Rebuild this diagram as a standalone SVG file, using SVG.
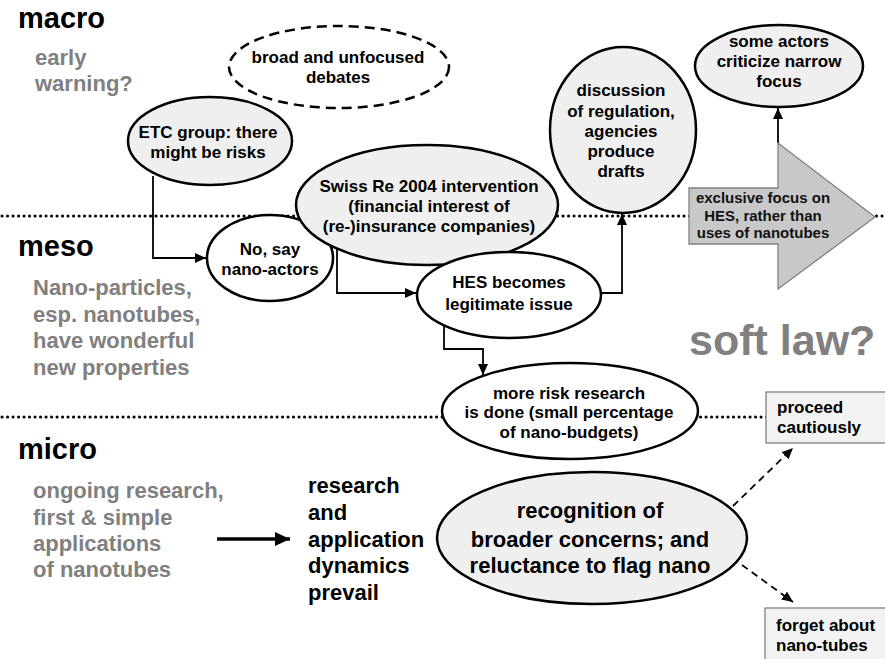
<svg xmlns="http://www.w3.org/2000/svg" width="885" height="659" viewBox="0 0 885 659">
  <defs>
    <marker id="arrow" markerUnits="userSpaceOnUse" markerWidth="12" markerHeight="10" refX="11" refY="5" orient="auto">
      <path d="M0,0 L11,5 L0,10 Z" fill="#000"/>
    </marker>
    <marker id="arrowBig" markerUnits="userSpaceOnUse" markerWidth="16" markerHeight="14" refX="15" refY="7" orient="auto">
      <path d="M0,0 L15,7 L0,14 Z" fill="#000"/>
    </marker>
  </defs>
  <style>
    text { font-family: "Liberation Sans", Arial, Helvetica, sans-serif; font-weight: bold; }
    .level { font-size: 29px; fill: #000; }
    .note { font-size: 22px; fill: #808080; }
    .big { font-size: 22px; fill: #000; }
    .lbl { font-size: 17px; fill: #000; text-anchor: middle; }
    .box-lbl { font-size: 17px; fill: #000; }
    .node { stroke: #000; stroke-width: 2.5; }
    .white { fill: #fff; }
    .grey { fill: #efefef; }
    .divider { stroke: #000; stroke-width: 3; stroke-linecap: round; stroke-dasharray: 0.1 5.4; fill: none; }
    .conn { stroke: #000; stroke-width: 1.8; fill: none; }
    .dash { stroke: #000; stroke-width: 1.8; fill: none; stroke-dasharray: 7 5; }
  </style>

  <rect width="885" height="659" fill="#fff"/>

  <!-- level dividers -->
  <line class="divider" x1="2" y1="216" x2="884" y2="216"/>
  <line class="divider" x1="2" y1="417" x2="884" y2="417"/>

  <!-- level headings and side notes -->
  <g id="level-macro">
    <text class="level" x="18" y="28">macro</text>
    <text class="note" x="35" y="65">early</text>
    <text class="note" x="35" y="91">warning?</text>
  </g>
  <g id="level-meso">
    <text class="level" x="18" y="256">meso</text>
    <text class="note" x="33" y="295">Nano-particles,</text>
    <text class="note" x="33" y="322">esp. nanotubes,</text>
    <text class="note" x="33" y="348">have wonderful</text>
    <text class="note" x="33" y="375">new properties</text>
  </g>
  <g id="level-micro">
    <text class="level" x="18" y="459">micro</text>
    <text class="note" x="33" y="498">ongoing research,</text>
    <text class="note" x="33" y="525">first &amp; simple</text>
    <text class="note" x="33" y="551">applications</text>
    <text class="note" x="33" y="577">of nanotubes</text>
  </g>
  <g id="soft-law">
    <text x="689" y="355" style="font-size:43px;fill:#808080">soft law?</text>
  </g>

  <!-- connectors -->
  <g id="connectors">
    <polyline class="conn" points="153,176 153,258 206,258" marker-end="url(#arrow)"/>
    <polyline class="conn" points="337,249 337,293 416,293" marker-end="url(#arrow)"/>
    <polyline class="conn" points="601,293 622,293 622,214" marker-end="url(#arrow)"/>
    <polyline class="conn" points="444,325 444,349 483,349 483,375" marker-end="url(#arrow)"/>
    <line class="conn" x1="778" y1="143" x2="778" y2="108" marker-end="url(#arrow)"/>
    <line x1="217" y1="539" x2="290" y2="539" stroke="#000" stroke-width="3.5" marker-end="url(#arrowBig)"/>
    <line class="dash" x1="733" y1="506" x2="793" y2="448" marker-end="url(#arrow)"/>
    <line class="dash" x1="742" y1="565" x2="793" y2="602" marker-end="url(#arrow)"/>
  </g>

  <!-- nodes -->
  <g id="broad-debates">
    <ellipse cx="339" cy="67" rx="110" ry="41" fill="#fff" stroke="#000" stroke-width="2.5" stroke-dasharray="10 6"/>
    <text class="lbl" x="338" y="63">broad and unfocused</text>
    <text class="lbl" x="338" y="83">debates</text>
  </g>

  <g id="etc-group">
    <ellipse class="node grey" cx="210" cy="141" rx="82" ry="44"/>
    <text class="lbl" x="208" y="138">ETC group: there</text>
    <text class="lbl" x="208" y="158">might be risks</text>
  </g>

  <g id="nano-actors">
    <ellipse class="node white" cx="270" cy="258" rx="63" ry="43"/>
    <text class="lbl" x="270" y="255">No, say</text>
    <text class="lbl" x="270" y="275">nano-actors</text>
  </g>

  <g id="swiss-re">
    <ellipse class="node grey" cx="427" cy="205" rx="131" ry="60"/>
    <text class="lbl" x="429" y="192">Swiss Re 2004 intervention</text>
    <text class="lbl" x="429" y="212">(financial interest of</text>
    <text class="lbl" x="429" y="232">(re-)insurance companies)</text>
  </g>

  <g id="hes-legitimate">
    <ellipse class="node white" cx="509" cy="295" rx="92" ry="43"/>
    <text class="lbl" x="509" y="288">HES becomes</text>
    <text class="lbl" x="509" y="310">legitimate issue</text>
  </g>

  <g id="regulation">
    <ellipse class="node grey" cx="623" cy="130" rx="73" ry="83"/>
    <text class="lbl" x="621" y="96">discussion</text>
    <text class="lbl" x="621" y="117">of regulation,</text>
    <text class="lbl" x="621" y="137">agencies</text>
    <text class="lbl" x="621" y="157">produce</text>
    <text class="lbl" x="621" y="177">drafts</text>
  </g>

  <g id="narrow-focus">
    <ellipse class="node grey" cx="779" cy="66" rx="84" ry="41"/>
    <text class="lbl" x="779" y="47">some actors</text>
    <text class="lbl" x="779" y="67">criticize narrow</text>
    <text class="lbl" x="779" y="87">focus</text>
  </g>

  <g id="exclusive-focus">
    <polygon points="689,188 778,188 778,143 875,217 778,289 778,244 689,244" fill="#c8c8c8" stroke="#808080" stroke-width="1.3"/>
    <text class="lbl" x="763" y="203" style="font-size:15px;fill:#111">exclusive focus on</text>
    <text class="lbl" x="763" y="221" style="font-size:15px;fill:#111">HES, rather than</text>
    <text class="lbl" x="763" y="238" style="font-size:15px;fill:#111">uses of nanotubes</text>
  </g>

  <g id="risk-research">
    <ellipse class="node white" cx="570" cy="411" rx="128" ry="48"/>
    <text class="lbl" x="569" y="399">more risk research</text>
    <text class="lbl" x="569" y="418">is done (small percentage</text>
    <text class="lbl" x="569" y="438">of nano-budgets)</text>
  </g>

  <g id="research-dynamics">
    <text class="big" x="308" y="493">research</text>
    <text class="big" x="308" y="520">and</text>
    <text class="big" x="308" y="547">application</text>
    <text class="big" x="308" y="573">dynamics</text>
    <text class="big" x="308" y="600">prevail</text>
  </g>

  <g id="broader-concerns">
    <ellipse class="node grey" cx="592" cy="538" rx="155" ry="66"/>
    <text class="lbl" x="590" y="518" style="font-size:22px">recognition of</text>
    <text class="lbl" x="590" y="547" style="font-size:22px">broader concerns; and</text>
    <text class="lbl" x="590" y="573" style="font-size:22px">reluctance to flag nano</text>
  </g>

  <g id="proceed-cautiously">
    <rect x="766" y="392" width="125" height="51" fill="#f2f2f2" stroke="#808080" stroke-width="1.3"/>
    <text class="box-lbl" x="777" y="413">proceed</text>
    <text class="box-lbl" x="777" y="433">cautiously</text>
  </g>

  <g id="forget-nanotubes">
    <rect x="765" y="608" width="126" height="60" fill="#f2f2f2" stroke="#808080" stroke-width="1.3"/>
    <text class="box-lbl" x="776" y="631">forget about</text>
    <text class="box-lbl" x="776" y="651">nano-tubes</text>
  </g>
</svg>
